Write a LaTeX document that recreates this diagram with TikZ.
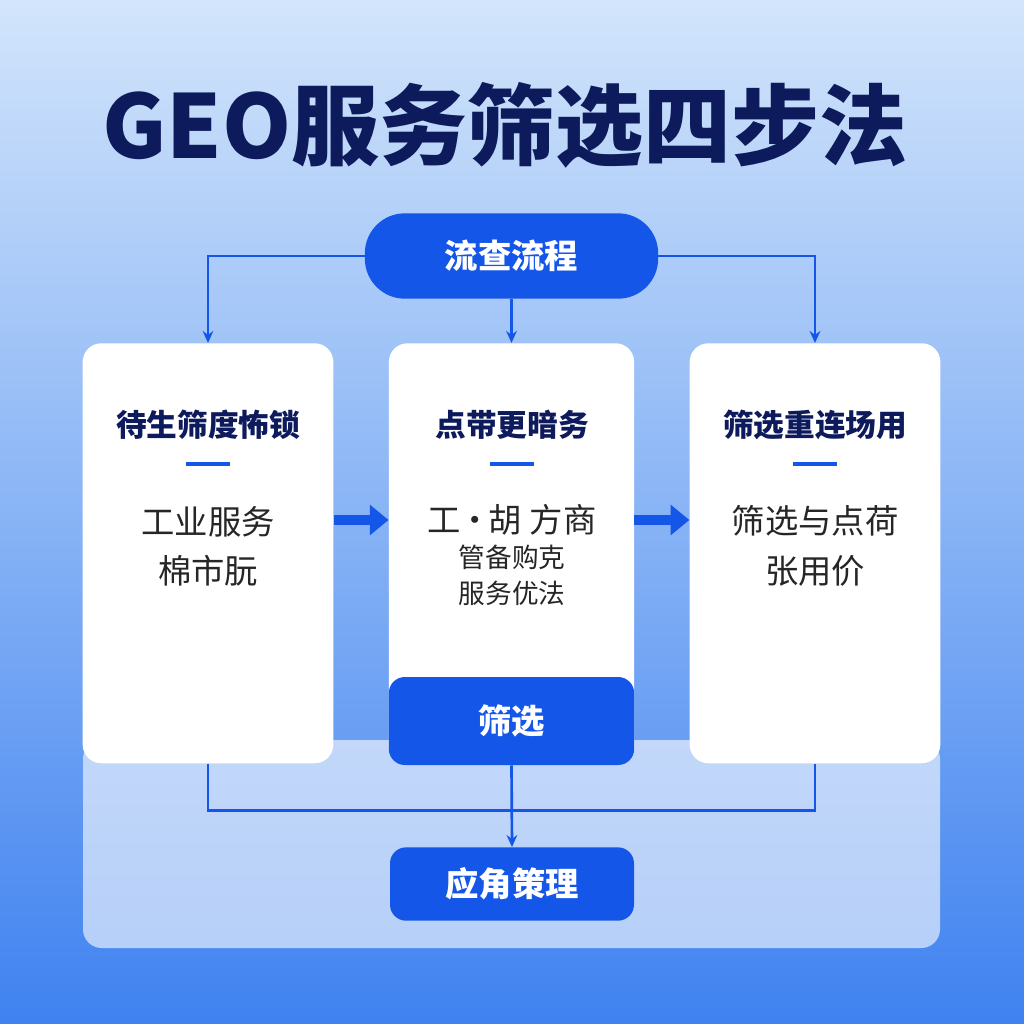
\documentclass[tikz,border=0pt]{standalone}
\usepackage{fontspec}
\setmainfont{Noto Sans CJK SC}
\usetikzlibrary{arrows.meta}
\definecolor{navy}{HTML}{0D1A5C}
\definecolor{hblue}{HTML}{1456E8}
\definecolor{bgtop}{HTML}{D2E5FB}
\definecolor{bgbot}{HTML}{3F82F0}
\begin{document}
\begin{tikzpicture}[x=0.75pt,y=-0.75pt,>={Stealth[length=9pt,width=8pt]},
karte/.style={rectangle,rounded corners=14pt,fill=white,draw=none,minimum width=188pt,anchor=north},
pille/.style={rectangle,fill=hblue,text=white,font=\bfseries\fontsize{25}{28}\selectfont,inner sep=0pt},
kopf/.style={text=navy,font=\bfseries\fontsize{23}{26}\selectfont},
rumpf/.style={text=black!85,font=\fontsize{25}{37}\selectfont,align=center},
linie/.style={hblue,line width=2pt}]
% background
\shade[top color=bgtop,bottom color=bgbot] (0,0) rectangle (1024,1024);
\useasboundingbox (0,0) rectangle (1024,1024);
\fill[white,opacity=.6,rounded corners=14pt] (83,740) rectangle (940,948);
% title
\node[text=navy,font=\bfseries\fontsize{66}{72}\selectfont](titel) at (505,125){GEO服务筛选四步法};
% cards
\node[karte,minimum height=315pt](links) at (208,343){};
\node[karte,minimum height=316pt,minimum width=184pt](mitte) at (511.5,343){};
\node[karte,minimum height=315pt](rechts) at (815,343){};
\node[pille,rounded corners=12pt,minimum width=184pt,minimum height=66pt](filter) at (511.5,721){筛选};
\node[pille,rounded corners=30pt,minimum width=220pt,minimum height=64pt](oben) at (511.5,256){流查流程};
\node[pille,rounded corners=12pt,minimum width=183pt,minimum height=55pt](unten) at (512,884){应角策理};
% card texts
\foreach \x/\k in {208/待生筛度怖锁,512/点带更暗务,815/筛选重连场用}{
  \node[kopf] at (\x,425){\k};
  \draw[hblue,line width=2.4pt] (\x-22,464)--(\x+22,464);
}
\node[rumpf] at (208,546){工业服务\\棉市朊};
\node[rumpf] at (512,520){工{\kern-2pt}·{\kern-2pt}胡 方商};
\node[rumpf,font=\fontsize{20}{27}\selectfont] at (512,575){管备购克\\服务优法};
\node[rumpf] at (815,546){筛选与点荷\\张用价};
% connectors
\begin{scope}[linie,->]
\draw (oben.west)-|(links.north);
\draw (oben.south)--(mitte.north);
\draw (oben.east)-|(rechts.north);
\draw (filter.south)--(unten.north);
\end{scope}
\draw[linie] (links.south)--++(0,47)-|(rechts.south);
\draw[hblue,line width=7pt,-{Triangle[length=14pt,width=22pt]}] (links.east|-0,520)--(mitte.west|-0,520);
\draw[hblue,line width=7pt,-{Triangle[length=14pt,width=22pt]}] (mitte.east|-0,520)--(rechts.west|-0,520);
\end{tikzpicture}
\end{document}
